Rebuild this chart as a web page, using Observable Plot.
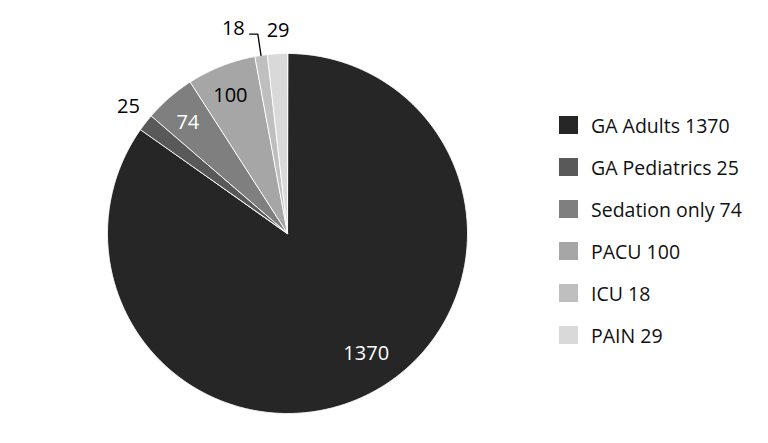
<!DOCTYPE html>
<html>
<head>
<meta charset="utf-8">
<script src="https://cdn.jsdelivr.net/npm/d3@7"></script>
<script src="https://cdn.jsdelivr.net/npm/@observablehq/plot@0.6"></script>
<style>
  html, body { margin: 0; padding: 0; background: #fff; }
  #wrap { position: relative; width: 768px; height: 443px; font-family: "Open Sans", "Noto Sans", sans-serif; }
  #legend { position: absolute; left: 559px; top: 104px; }
  .row { display: flex; align-items: center; height: 42px; font-size: 19.5px; color: #111; }
  .sw { width: 19px; height: 18px; margin-right: 13px; }
</style>
</head>
<body>
<div id="wrap"><div id="chart"></div><div id="legend"></div></div>
<script>
const categories = ["GA Adults", "GA Pediatrics", "Sedation only", "PACU", "ICU", "PAIN"];
const values = [1370, 25, 74, 100, 18, 29];
const colors = ["#262626", "#595959", "#7f7f7f", "#a6a6a6", "#bfbfbf", "#d9d9d9"];
const labelColors = ["#fff", "#000", "#fff", "#000", "#000", "#000"];
const outside = [false, true, false, false, true, true];

const total = d3.sum(values);
const slices = [];
const labels = [];
const leader = [];
let acc = 0;
values.forEach((v, i) => {
  const a0 = acc / total * 2 * Math.PI;
  acc += v;
  const a1 = acc / total * 2 * Math.PI;
  const pt = (a, r) => ({x: r * Math.sin(a), y: r * Math.cos(a)});
  slices.push({cat: categories[i], i, ...pt(0, 0)});
  const n = Math.max(2, Math.ceil((a1 - a0) / 0.005));
  for (let j = 0; j <= n; j++) {
    slices.push({cat: categories[i], i, ...pt(a0 + (a1 - a0) * j / n, 1)});
  }
  const mid = (a0 + a1) / 2;
  if (!outside[i]) {
    const big = v / total > 0.5;
    labels.push({text: String(v), color: labelColors[i], ...pt(mid - (big ? 0.1 : 0.015), big ? 0.8 : 0.83)});
  } else if (categories[i] === "ICU") {
    // label pushed aside with a leader line
    const e = pt(mid, 1), b = pt(mid, 1.12);
    const lab = pt(mid - 0.11, 1.18);
    leader.push({x: e.x, y: e.y}, {x: b.x, y: b.y}, {x: lab.x + 0.09, y: b.y});
    labels.push({text: String(v), color: labelColors[i], ...lab});
  } else {
    labels.push({text: String(v), color: labelColors[i], ...pt(mid + 0.01, 1.13)});
  }
});

const chart = Plot.plot({
  width: 768,
  height: 443,
  marginLeft: 107,
  marginRight: 301,
  marginTop: 53,
  marginBottom: 30,
  x: {domain: [-1, 1], axis: null},
  y: {domain: [-1, 1], axis: null},
  color: {domain: categories, range: colors},
  style: {fontFamily: "'Open Sans', 'Noto Sans', sans-serif", background: "#fff"},
  marks: [
    Plot.line(slices, {x: "x", y: "y", z: "cat", fill: "cat", stroke: "#fff", strokeWidth: 1, curve: "linear-closed"}),
    Plot.line(leader, {x: "x", y: "y", stroke: "#000", strokeWidth: 1.3}),
    Plot.text(labels, {x: "x", y: "y", text: "text", fill: d => d.color, fontSize: 20})
  ]
});
document.getElementById("chart").appendChild(chart);

const legend = d3.select("#legend");
categories.forEach((c, i) => {
  const row = legend.append("div").attr("class", "row");
  row.append("div").attr("class", "sw").style("background", colors[i]);
  row.append("span").text(`${c} ${values[i]}`);
});
</script>
</body>
</html>
